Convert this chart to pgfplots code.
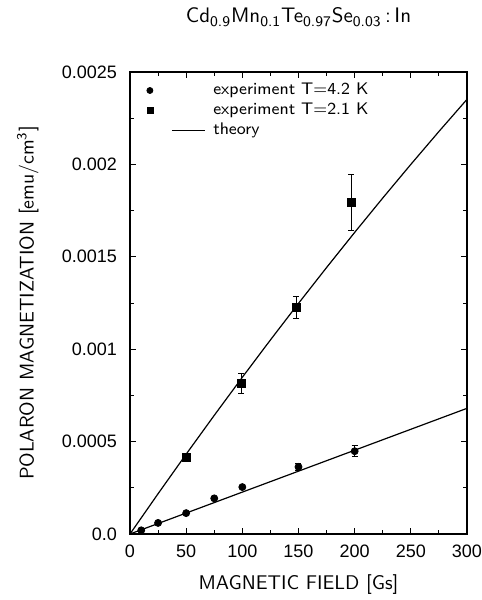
\documentclass[border=0pt]{standalone}
\usepackage{fontspec}
\usepackage{pgfplots}
\pgfplotsset{compat=1.18}
\newfontfamily\tickfont{Liberation Sans}
\begin{document}
\begin{tikzpicture}
\begin{axis}[
    name=ax,
    scale only axis,
    width=168.5pt, height=231pt,
    xmin=0, xmax=300, ymin=0, ymax=0.0025,
    xtick={0,50,100,150,200,250,300},
    xticklabels={0,50,100,150,200,250,300},
    ytick={0,0.0005,0.001,0.0015,0.002,0.0025},
    yticklabels={0.0,0.0005,0.001,0.0015,0.002,0.0025},
    scaled y ticks=false,
    minor x tick num=1, minor y tick num=1,
    tick align=inside,
    major tick length=3pt, minor tick length=1.8pt,
    ticklabel style={font=\tickfont\fontsize{9}{10}\selectfont},
    xticklabel style={inner sep=0pt, yshift=-5.5pt},
    yticklabel style={xshift=-3pt},
    axis line style={line width=0.6pt},
    every tick/.style={black, line width=0.5pt},
    xlabel={MAGNETIC FIELD [Gs]},
    ylabel={POLARON MAGNETIZATION [emu/cm\textsuperscript{3}]},
    label style={font=\sffamily\fontsize{9.9}{11}\selectfont},
    xlabel style={at={(axis description cs:0.5,-0.110)}, anchor=center},
    ylabel style={at={(axis description cs:-0.303,0.5)}, anchor=center, rotate=0},
    legend style={draw=none, fill=none, at={(axis description cs:0.030,0.994)}, anchor=north west,
        nodes={font=\sffamily\fontsize{8.4}{9.5}\selectfont}, row sep=-1.3pt},
    legend cell align=left,
    error bars/y dir=both, error bars/y explicit,
    error bars/error mark options={rotate=90, mark size=1.5pt, line width=0.5pt},
    error bars/error bar style={line width=0.5pt},
    clip=false,
]
% T = 4.2 K
\addplot[only marks, mark=*, mark size=1.75pt, black, forget plot] coordinates {
    (10,0.00002) +- (0,0)
    (25,0.00006) +- (0,0)
    (50,0.000113) +- (0,0)
    (75,0.000193) +- (0,0)
    (100,0.000254) +- (0,0)
    (150,0.000363) +- (0,0.000018)
    (200,0.000448) +- (0,0.00003)
};
% T = 2.1 K
\addplot[only marks, mark=square*, mark size=2pt, black, forget plot] coordinates {
    (50,0.000417) +- (0,0.00001)
    (99,0.000813) +- (0,0.000055)
    (148,0.001225) +- (0,0.00006)
    (197,0.001795) +- (0,0.00015)
};
% theory
\addplot[black, line width=0.6pt, forget plot] coordinates {(0,0) (300,0.00068)};
\addplot[black, line width=0.6pt, forget plot] coordinates {
    (0,0) (25,0.000218) (50,0.000432) (75,0.000642) (100,0.000848) (125,0.00105)
    (150,0.001248) (175,0.001442) (200,0.001632) (225,0.001818) (250,0.002)
    (275,0.002178) (300,0.002352)};
\addlegendimage{legend image code/.code={\fill[black] (-11pt,0pt) circle (1.5pt); \path (18.5pt,0pt);}}
\addlegendentry{experiment T=4.2 K}
\addlegendimage{legend image code/.code={\fill[black] (-12.5pt,-1.5pt) rectangle (-9.5pt,1.5pt); \path (18.5pt,0pt);}}
\addlegendentry{experiment T=2.1 K}
\addlegendimage{legend image code/.code={\draw[black, line width=0.6pt] (0pt,0pt) -- (16.5pt,0pt); \path (18.5pt,0pt);}}
\addlegendentry{theory}
\node[font=\sffamily\fontsize{10.5}{12}\selectfont, inner sep=0pt] at (axis description cs:0.5,1.119)
    {Cd\textsubscript{0.9}Mn\textsubscript{0.1}Te\textsubscript{0.97}Se\textsubscript{0.03}\,:\,In};
\end{axis}
\pgfresetboundingbox
\useasboundingbox (ax.south west) ++(-65pt,-33pt) rectangle ++(241pt,300pt);
\end{tikzpicture}
\end{document}
